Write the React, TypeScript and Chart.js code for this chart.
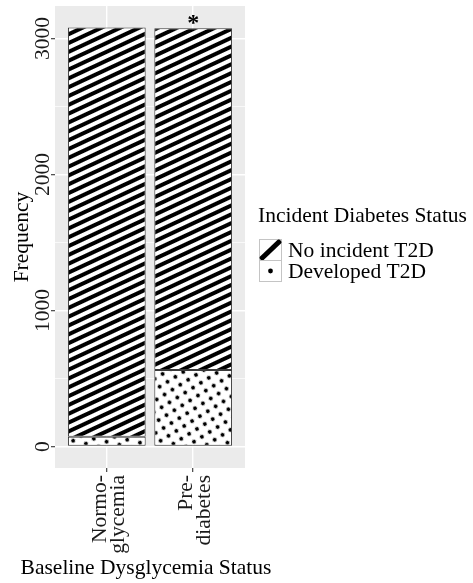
import React, { useEffect, useRef } from 'react';
import { Chart, registerables } from 'chart.js';

Chart.register(...registerables);

// ---- data ----
const categories: string[][] = [['Normo-', 'glycemia'], ['Pre-', 'diabetes']];
const seriesLabels = ['No incident T2D', 'Developed T2D'];
const developedT2D = [72, 562];
const noIncidentT2D = [3008, 2513];
const significance = ['', '*'];
const yTicks = [0, 500, 1000, 1500, 2000, 2500, 3000];
const yRange = [-158, 3239];
const xRange = [0.4, 2.6];
const labelShift = 0.08;
const legendTitle = 'Incident Diabetes Status';
const xTitle = 'Baseline Dysglycemia Status';
const yTitle = 'Frequency';

const FAMILY = '"Liberation Serif", "Times New Roman", serif';
const FS = 21.5;

function makeStripes(ctx: CanvasRenderingContext2D): CanvasPattern | string {
  const s = 8;
  const c = document.createElement('canvas');
  c.width = s;
  c.height = s;
  const g = c.getContext('2d')!;
  g.fillStyle = '#fff';
  g.fillRect(0, 0, s, s);
  g.fillStyle = '#000';
  g.fillRect(0, 2, s, 4);
  const p = ctx.createPattern(c, 'repeat');
  if (!p) return '#000';
  p.setTransform(new DOMMatrix().rotate(-25));
  return p;
}

function makeDots(ctx: CanvasRenderingContext2D): CanvasPattern | string {
  const s = 9;
  const c = document.createElement('canvas');
  c.width = s;
  c.height = s;
  const g = c.getContext('2d')!;
  g.fillStyle = '#fff';
  g.fillRect(0, 0, s, s);
  g.fillStyle = '#000';
  g.beginPath();
  g.arc(s / 2, s / 2, 1.9, 0, Math.PI * 2);
  g.fill();
  const p = ctx.createPattern(c, 'repeat');
  if (!p) return '#fff';
  p.setTransform(new DOMMatrix().rotate(-32).scale(1.03));
  return p;
}

export default function App() {
  const ref = useRef<HTMLCanvasElement | null>(null);

  useEffect(() => {
    const canvas = ref.current;
    if (!canvas) return;
    const ctx2d = canvas.getContext('2d')!;
    const stripes = makeStripes(ctx2d);
    const dots = makeDots(ctx2d);

    const decor = {
      id: 'decor',
      beforeDraw(chart: any) {
        const { ctx, chartArea: a } = chart;
        ctx.save();
        ctx.fillStyle = '#fff';
        ctx.fillRect(0, 0, chart.width, chart.height);
        ctx.fillStyle = '#EBEBEB';
        ctx.fillRect(a.left, a.top, a.right - a.left, a.bottom - a.top);
        ctx.restore();
      },
      afterDraw(chart: any) {
        const { ctx, chartArea: a } = chart;
        const xs = chart.scales.x;
        const ys = chart.scales.y;
        ctx.save();
        // significance markers
        ctx.font = `bold 24px ${FAMILY}`;
        ctx.fillStyle = '#000';
        ctx.textAlign = 'center';
        ctx.textBaseline = 'alphabetic';
        significance.forEach((s, i) => {
          if (!s) return;
          const total = developedT2D[i] + noIncidentT2D[i];
          ctx.fillText(s, xs.getPixelForValue(i + 1), ys.getPixelForValue(total) + 2);
        });
        // x axis title (centred under the panel, not squeezed)
        ctx.font = `${FS}px ${FAMILY}`;
        ctx.textAlign = 'center';
        ctx.fillText(xTitle, (a.left + a.right) / 2 - 4, 574);
        // legend
        ctx.textAlign = 'left';
        ctx.fillText(legendTitle, 258, 222);
        const lx = 259.5;
        const ly = 239.5;
        const kw = 22;
        const kh = 21;
        seriesLabels.forEach((lab, i) => {
          const y0 = ly + i * kh;
          ctx.fillStyle = '#fff';
          ctx.fillRect(lx, y0, kw, kh);
          ctx.strokeStyle = '#c4c4c4';
          ctx.lineWidth = 1;
          ctx.strokeRect(lx, y0, kw, kh);
          ctx.save();
          ctx.beginPath();
          ctx.rect(lx, y0, kw, kh);
          ctx.clip();
          ctx.fillStyle = '#000';
          ctx.strokeStyle = '#000';
          if (i === 0) {
            ctx.lineWidth = 5;
            ctx.beginPath();
            ctx.moveTo(lx + 1, y0 + kh - 1);
            ctx.lineTo(lx + kw - 1, y0 + 1);
            ctx.stroke();
          } else {
            ctx.beginPath();
            ctx.arc(lx + kw / 2, y0 + kh / 2, 2.4, 0, Math.PI * 2);
            ctx.fill();
          }
          ctx.restore();
          ctx.fillStyle = '#000';
          ctx.fillText(lab, 288, y0 + kh / 2 + 7);
        });
        ctx.restore();
      },
    };

    const tickFont = { family: FAMILY, size: FS };
    const chart = new Chart(canvas, {
      type: 'bar',
      data: {
        datasets: [
          {
            label: seriesLabels[1],
            data: developedT2D.map((v, i) => ({ x: i + 1, y: v })),
            backgroundColor: dots as any,
            borderColor: '#3a3a3a',
            borderWidth: 1,
            borderSkipped: false,
            barPercentage: 0.9,
            categoryPercentage: 1,
            xAxisID: 'x',
            yAxisID: 'y',
          },
          {
            label: seriesLabels[0],
            data: noIncidentT2D.map((v, i) => ({ x: i + 1, y: v })),
            backgroundColor: stripes as any,
            borderColor: '#3a3a3a',
            borderWidth: 1,
            borderSkipped: false,
            barPercentage: 0.9,
            categoryPercentage: 1,
            xAxisID: 'x',
            yAxisID: 'y',
          },
        ],
      } as any,
      options: {
        animation: false,
        responsive: false,
        devicePixelRatio: 1,
        layout: { padding: { left: 0, top: 6, right: 228, bottom: 0 } },
        plugins: { legend: { display: false }, tooltip: { enabled: false } },
        scales: {
          x: {
            type: 'linear',
            position: 'bottom',
            stacked: true,
            offset: false,
            weight: 0,
            min: xRange[0],
            max: xRange[1],
            afterBuildTicks: (s: any) => {
              s.ticks = categories.map((_, i) => ({ value: i + 1 }));
            },
            afterFit: (s: any) => {
              s.height = 4;
            },
            border: { display: false },
            grid: { offset: false, color: '#fff', lineWidth: 1.4, tickColor: '#333', tickLength: 4, tickWidth: 1.1 },
            ticks: { display: false },
          },
          xl: {
            type: 'linear',
            position: 'bottom',
            offset: false,
            weight: 1,
            min: xRange[0] + labelShift,
            max: xRange[1] + labelShift,
            afterBuildTicks: (s: any) => {
              s.ticks = categories.map((_, i) => ({ value: i + 1 }));
            },
            afterFit: (s: any) => {
              s.height = 111;
            },
            border: { display: false },
            grid: { display: false, offset: false },
            ticks: {
              callback: (v: any) => categories[Math.round(Number(v)) - 1] ?? '',
              minRotation: 90,
              maxRotation: 90,
              autoSkip: false,
              padding: -5,
              font: { family: FAMILY, size: FS, lineHeight: 0.85 },
              color: '#1a1a1a',
            },
          },
          y: {
            type: 'linear',
            position: 'left',
            stacked: true,
            min: yRange[0],
            max: yRange[1],
            afterBuildTicks: (s: any) => {
              s.ticks = yTicks.map((v) => ({ value: v }));
            },
            afterFit: (s: any) => {
              s.width = 55;
            },
            border: { display: false },
            grid: {
              color: '#fff',
              lineWidth: (c: any) => (c.tick && c.tick.value % 1000 === 0 ? 1.4 : 0.7),
              tickColor: (c: any) => (c.tick && c.tick.value % 1000 === 0 ? '#333' : 'rgba(0,0,0,0)'),
              tickWidth: 1.1,
              tickLength: 4,
            },
            ticks: {
              callback: (v: any) => (Number(v) % 1000 === 0 ? String(v) : ''),
              minRotation: 90,
              maxRotation: 90,
              crossAlign: 'center',
              padding: -13.5,
              font: tickFont,
              color: '#1a1a1a',
            },
            title: {
              display: true,
              text: yTitle,
              font: tickFont,
              color: '#000',
              padding: { top: 9, bottom: 0 },
            },
          },
        } as any,
      },
      plugins: [decor],
    });
    return () => chart.destroy();
  }, []);

  return (
    <div style={{ position: 'absolute', left: 0, top: 0, width: 473, height: 583 }}>
      <canvas ref={ref} width={473} height={583} style={{ display: 'block', width: 473, height: 583 }} />
    </div>
  );
}
